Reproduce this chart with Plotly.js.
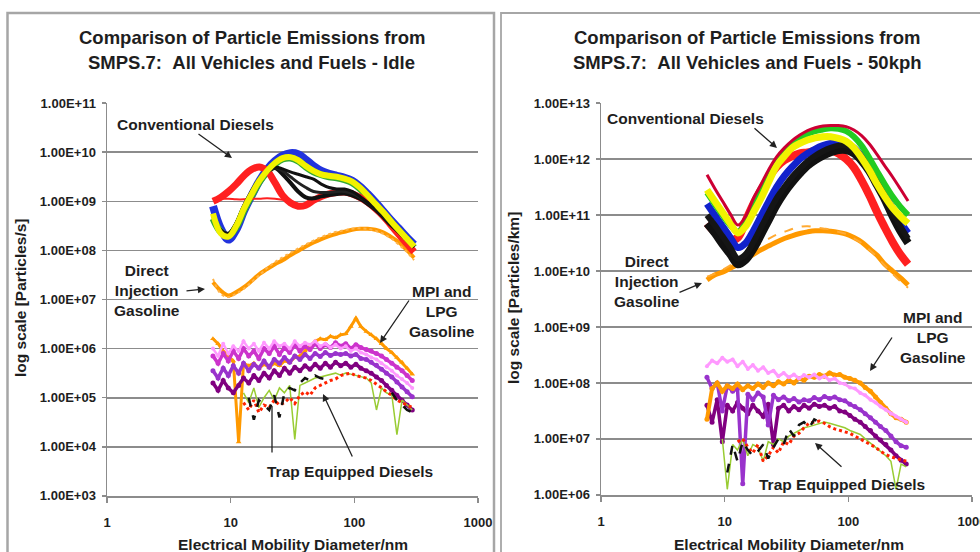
<!DOCTYPE html>
<html><head><meta charset="utf-8">
<script src="https://cdn.plot.ly/plotly-3.0.1.min.js"></script>
<style>html,body{margin:0;padding:0;background:#fff}#chart{width:980px;height:552px}</style>
</head><body><div id="chart"></div>
<script>
// ---------- DATA (y values are read as log10 exponents from the log-scale picture) ----------
const diaA = [7.2, 8.3, 9.6, 11.1, 12.8, 14.8, 17.1, 19.7, 22.8, 26.3, 30.4, 35.1, 40.5, 46.8, 54.0, 62.4, 72.0, 83.2, 96.0, 111, 128, 148, 171, 197, 228, 263, 304];
const diaF = [7.19, 7.91, 8.70, 9.57, 10.5, 11.6, 12.7, 14.0, 15.4, 16.9, 18.6, 20.5, 22.5, 24.8, 27.2, 30.0, 33.0, 36.3, 39.9, 43.8, 48.2, 53.0, 58.3, 64.1, 70.5, 77.5, 85.2, 93.7, 103, 113, 125, 137, 151, 166, 182, 201, 221, 243, 267, 294];

const xTickVals = [1, 10, 100, 1000];
const xTickText = ['1', '10', '100', '1000'];
const idleTickVals = [1e3, 1e4, 1e5, 1e6, 1e7, 1e8, 1e9, 1e10, 1e11];
const idleTickText = ['1.00E+03', '1.00E+04', '1.00E+05', '1.00E+06', '1.00E+07', '1.00E+08', '1.00E+09', '1.00E+10', '1.00E+11'];
const kphTickVals = [1e6, 1e7, 1e8, 1e9, 1e10, 1e11, 1e12, 1e13];
const kphTickText = ['1.00E+06', '1.00E+07', '1.00E+08', '1.00E+09', '1.00E+10', '1.00E+11', '1.00E+12', '1.00E+13'];

// Idle – conventional diesels (diaA)
const idleBlue   = [8.9, 8.45, 8.22, 8.42, 8.8, 9.12, 9.42, 9.65, 9.82, 9.93, 9.98, 9.96, 9.85, 9.72, 9.62, 9.56, 9.52, 9.48, 9.42, 9.3, 9.15, 8.98, 8.8, 8.62, 8.45, 8.28, 8.12];
const idleGreen  = [8.65, 8.38, 8.3, 8.48, 8.82, 9.12, 9.4, 9.6, 9.76, 9.86, 9.88, 9.82, 9.7, 9.6, 9.54, 9.5, 9.48, 9.44, 9.38, 9.26, 9.1, 8.93, 8.76, 8.58, 8.4, 8.24, 8.06];
const idleYellow = [8.75, 8.35, 8.28, 8.5, 8.85, 9.15, 9.42, 9.62, 9.78, 9.88, 9.9, 9.84, 9.72, 9.62, 9.55, 9.52, 9.5, 9.46, 9.4, 9.28, 9.12, 8.95, 8.78, 8.6, 8.42, 8.25, 8.08];
const idleBlackA = [8.7, 8.4, 8.33, 8.55, 8.9, 9.2, 9.45, 9.6, 9.68, 9.55, 9.38, 9.2, 9.08, 9.06, 9.1, 9.13, 9.15, 9.16, 9.12, 9.05, 8.95, 8.83, 8.68, 8.52, 8.38, 8.22, 8.07];
const idleBlackB = [8.72, 8.42, 8.35, 8.56, 8.9, 9.2, 9.44, 9.62, 9.7, 9.66, 9.6, 9.55, 9.5, 9.45, 9.35, 9.28, 9.25, 9.25, 9.2, 9.1, 8.98, 8.85, 8.7, 8.54, 8.38, 8.22, 8.07];
const idleBlackC = [8.68, 8.4, 8.34, 8.55, 8.9, 9.2, 9.45, 9.6, 9.68, 9.62, 9.5, 9.38, 9.28, 9.2, 9.18, 9.18, 9.2, 9.2, 9.16, 9.08, 8.97, 8.84, 8.69, 8.53, 8.38, 8.22, 8.07];
const idleRedA   = [9.0, 9.08, 9.2, 9.35, 9.52, 9.65, 9.7, 9.62, 9.38, 9.12, 8.97, 8.9, 8.92, 9.02, 9.1, 9.15, 9.18, 9.19, 9.15, 9.08, 8.98, 8.85, 8.7, 8.52, 8.33, 8.15, 7.97];
const idleRedB   = [null, 9.05, 9.05, 9.04, 9.04, 9.05, 9.05, 9.06, 9.05, 9.03, 9.0, 8.95, null, null, null, null, null, null, null, null, null, null, null, null, null, null, null];
// Idle – direct injection gasoline (diaA)
const idleDiA = [7.35, 7.18, 7.08, 7.15, 7.25, 7.38, 7.52, 7.62, 7.72, 7.8, 7.9, 7.99, 8.08, 8.16, 8.23, 8.29, 8.34, 8.38, 8.42, 8.44, 8.44, 8.42, 8.37, 8.28, 8.17, 8.02, 7.85];
const idleDiB = [7.42, 7.12, 7.05, 7.12, 7.22, 7.36, 7.5, 7.64, 7.76, 7.86, 7.95, 8.04, 8.12, 8.2, 8.27, 8.33, 8.38, 8.41, 8.44, 8.45, 8.44, 8.4, 8.34, 8.25, 8.12, 7.98, 7.8];
// Idle – MPI and LPG gasoline (diaF)
const idleMpiOrange  = [6.2, 6.1, 5.95, 5.85, 5.75, 4.1, 5.7, 5.65, 5.7, 5.6, 5.68, 5.62, 5.7, 5.65, 5.75, 5.72, 5.82, 5.85, 5.95, 6.05, 6.15, 6.2, 6.18, 6.25, 6.22, 6.28, 6.3, 6.45, 6.62, 6.45, 6.35, 6.28, 6.2, 6.1, 6.0, 5.92, 5.82, 5.72, 5.6, 5.48];
const idleMpiViolet  = [5.3, 5.15, 5.35, 5.2, 5.1, 5.25, 5.4, 5.3, 5.45, 5.35, 5.5, 5.4, 5.55, 5.45, 5.6, 5.5, 5.62, 5.55, 5.65, 5.58, 5.68, 5.6, 5.7, 5.62, 5.72, 5.65, 5.7, 5.62, 5.68, 5.6, 5.55, 5.5, 5.42, 5.35, 5.25, 5.15, 5.05, 4.95, 4.85, 4.75];
const idleMpiPurple  = [5.55, 5.4, 5.6, 5.45, 5.65, 5.5, 5.7, 5.55, 5.68, 5.6, 5.75, 5.62, 5.78, 5.7, 5.82, 5.72, 5.85, 5.78, 5.88, 5.8, 5.9, 5.84, 5.92, 5.86, 5.9, 5.88, 5.9, 5.85, 5.88, 5.8, 5.78, 5.72, 5.66, 5.58, 5.5, 5.42, 5.32, 5.22, 5.12, 5.02];
const idleMpiMagenta = [5.85, 5.7, 5.9, 5.75, 5.95, 5.8, 6.0, 5.85, 5.95, 5.8, 6.0, 5.9, 6.05, 5.88, 6.02, 5.92, 6.08, 5.95, 6.05, 5.98, 6.1, 6.0, 6.08, 6.02, 6.12, 6.05, 6.1, 6.0, 6.08, 6.02, 5.98, 5.95, 5.9, 5.85, 5.78, 5.7, 5.62, 5.55, 5.45, 5.35];
const idleMpiPink    = [6.0, 5.85, 6.1, 5.9, 6.05, 5.95, 6.15, 6.0, 6.1, 5.95, 6.12, 6.0, 6.15, 6.05, 6.1, 6.0, 6.15, 6.05, 6.12, 6.08, 6.15, 6.05, 6.1, 6.02, 6.08, 6.0, 6.05, 5.95, 6.0, 5.92, 5.88, 5.82, 5.78, 5.7, 5.62, 5.55, 5.45, 5.38, 5.3, 5.2];
// Idle – trap equipped diesels (diaF)
const idleTrapGreen = [null, null, null, null, null, null, 5.1, 4.9, 5.2, 4.8, 5.0, 5.15, 4.95, 5.2, 5.1, 5.25, 4.15, 5.25, 5.3, 5.35, 5.4, 5.42, 5.45, 5.48, 5.5, 5.46, 5.5, 5.48, 5.45, 5.42, 5.4, 5.3, 4.75, 5.2, 5.1, 5.05, 4.25, 4.95, 4.85, 4.75];
const idleTrapRed   = [null, null, null, null, null, null, 4.9, 4.75, 4.95, 4.7, 4.85, 4.8, 4.95, 4.85, 4.9, 5.0, 4.88, 5.05, 5.12, 5.05, 5.2, 5.25, 5.3, 5.35, 5.38, 5.45, 5.48, 5.5, 5.45, 5.42, 5.4, 5.35, 5.28, 5.2, 5.12, 5.05, 4.95, 4.9, 4.85, 4.8];
const idleTrapBlack = [null, null, null, null, null, null, null, 5.0, 4.55, 4.95, 4.85, 4.75, 5.05, 4.6, 5.1, 5.2, 5.15, 5.3, 5.4, 5.35, 5.45, 5.4, 5.38, null, null, null, null, null, null, null, null, null, null, null, null, 5.1, 4.95, 4.85, 4.75, 4.7];

// 50kph – conventional diesels (diaA)
const kphRed     = [10.85, 10.7, 10.6, 10.55, 10.6, 10.9, 11.2, 11.45, 11.68, 11.86, 11.98, 12.05, 12.1, 12.12, 12.15, 12.17, 12.16, 12.1, 12.0, 11.85, 11.62, 11.35, 11.05, 10.78, 10.52, 10.3, 10.12];
const kphBlackB  = [10.85, 10.68, 10.48, 10.3, 10.12, 10.2, 10.4, 10.65, 10.92, 11.18, 11.4, 11.58, 11.74, 11.88, 11.98, 12.06, 12.12, 12.16, 12.16, 12.1, 11.97, 11.78, 11.53, 11.28, 10.98, 10.72, 10.5];
const kphBlue    = [11.2, 11.0, 10.8, 10.6, 10.42, 10.5, 10.72, 10.98, 11.25, 11.5, 11.7, 11.86, 12.0, 12.1, 12.18, 12.24, 12.28, 12.3, 12.28, 12.2, 12.05, 11.85, 11.62, 11.38, 11.12, 10.88, 10.68];
const kphBlack   = [11.0, 10.82, 10.62, 10.42, 10.22, 10.3, 10.52, 10.78, 11.05, 11.3, 11.5, 11.68, 11.83, 11.96, 12.06, 12.14, 12.2, 12.24, 12.24, 12.18, 12.04, 11.85, 11.6, 11.35, 11.05, 10.8, 10.58];
const kphGreen   = [11.4, 11.2, 11.0, 10.82, 10.7, 10.85, 11.12, 11.4, 11.7, 11.95, 12.12, 12.27, 12.37, 12.45, 12.5, 12.53, 12.55, 12.54, 12.5, 12.4, 12.24, 12.02, 11.78, 11.55, 11.33, 11.15, 11.0];
const kphYellow  = [11.45, 11.25, 11.05, 10.85, 10.68, 10.8, 11.05, 11.3, 11.6, 11.88, 12.05, 12.2, 12.28, 12.34, 12.38, 12.4, 12.4, 12.37, 12.32, 12.2, 12.02, 11.8, 11.55, 11.33, 11.13, 10.98, 10.85];
const kphCrimson = [11.72, 11.48, 11.25, 11.02, 10.82, 10.98, 11.3, 11.55, 11.82, 12.04, 12.2, 12.33, 12.43, 12.51, 12.56, 12.59, 12.6, 12.6, 12.58, 12.52, 12.42, 12.27, 12.08, 11.88, 11.68, 11.47, 11.25];
// 50kph – direct injection gasoline (diaA)
const kphDiA = [9.84, 9.93, 9.98, 10.05, 10.12, 10.22, 10.3, 10.38, 10.45, 10.52, 10.58, 10.63, 10.67, 10.7, 10.72, 10.72, 10.71, 10.69, 10.66, 10.6, 10.52, 10.4, 10.28, 10.12, 10.0, 9.88, 9.75];
const kphDiB = [9.9, 9.95, 10.02, 10.1, 10.2, 10.3, 10.4, 10.5, 10.58, 10.65, 10.7, 10.75, 10.79, 10.8, 10.78, 10.76, 10.74, 10.7, 10.66, 10.58, 10.5, 10.38, 10.25, 10.1, 9.95, 9.82, 9.7];
// 50kph – MPI and LPG gasoline (diaF)
const kphMpiViolet = [7.6, 7.3, 7.7, 6.95, 7.6, 7.5, 7.65, 7.55, 7.45, 7.6, 7.5, 7.4, 7.62, 6.9, 7.55, 7.6, 7.5, 7.58, 7.52, 7.6, 7.55, 7.62, 7.58, 7.6, 7.55, 7.58, 7.5, 7.48, 7.42, 7.35, 7.3, 7.22, 7.15, 7.05, 6.98, 6.9, 6.8, 6.7, 6.62, 6.55];
const kphMpiPurple = [8.1, 7.9, 8.0, 7.5, 7.95, 7.85, 7.9, 6.2, 7.8, 7.7, 7.82, 7.75, 7.25, 7.78, 7.7, 7.75, 7.68, 7.72, 7.66, 7.7, 7.68, 7.74, 7.7, 7.76, 7.72, 7.75, 7.7, 7.68, 7.62, 7.58, 7.52, 7.45, 7.38, 7.3, 7.22, 7.15, 7.05, 6.95, 6.88, 6.85];
const kphMpiOrange = [7.35, 7.9, 8.0, 7.85, 7.95, 7.9, 7.98, 7.88, 7.95, 7.9, 7.98, 7.92, 8.0, 7.95, 8.02, 7.98, 8.05, 8.0, 8.08, 8.05, 8.12, 8.1, 8.15, 8.12, 8.18, 8.14, 8.15, 8.1, 8.08, 8.05, 8.0, 7.92, 7.85, 7.75, 7.65, 7.55, 7.45, 7.38, 7.35, 7.3];
const kphMpiPink   = [8.3, 8.4, 8.35, 8.45, 8.38, 8.42, 8.3, 8.38, 8.25, 8.32, 8.22, 8.28, 8.18, 8.22, 8.12, 8.18, 8.1, 8.15, 8.08, 8.14, 8.1, 8.15, 8.08, 8.12, 8.05, 8.08, 8.0, 7.98, 7.92, 7.9, 7.82, 7.78, 7.7, 7.65, 7.58, 7.52, 7.45, 7.4, 7.35, 7.3];
// 50kph – trap equipped diesels (diaF)
const kphTrapGreen = [null, null, null, 7.0, 6.1, 6.9, 6.8, 7.0, 6.7, 6.9, 6.85, 6.6, 6.95, 6.9, 7.0, 6.95, 7.05, 7.1, 7.15, 7.2, 7.22, 7.25, 7.28, 7.3, 7.28, 7.25, 7.22, 7.2, 7.15, 7.12, 7.08, 7.0, 6.92, 6.85, 6.78, 6.7, 6.6, 6.1, 6.55, 6.5];
const kphTrapRed   = [null, null, null, null, null, null, 6.95, 7.0, 6.85, 6.75, 6.9, 6.6, 6.7, 6.85, 6.75, 6.95, 6.9, 7.05, 7.1, 7.2, 7.28, 7.3, 7.32, 7.28, 7.22, 7.18, 7.15, 7.12, 7.1, 7.05, 7.0, 6.95, 6.9, 6.85, 6.78, 6.72, 6.68, 6.65, 6.62, 6.6];
const kphTrapBlack = [null, null, null, null, 6.4, 6.9, 6.6, 6.95, 6.8, 6.7, 6.78, 6.9, 6.65, 6.85, 7.0, 6.9, 7.18, 7.05, 7.25, 7.3, 7.2, 7.35, 7.3, null, null, null, null, null, null, null, null, null, null, null, null, null, null, null, null, null];

// ---------- TEXT ----------
const idleTitle = ['Comparison of Particle Emissions from', 'SMPS.7:\u00a0\u00a0All Vehicles and Fuels - Idle'];
const kphTitle = ['Comparison of Particle Emissions from', 'SMPS.7:\u00a0\u00a0All Vehicles and Fuels - 50kph'];
const xTitle = 'Electrical Mobility Diameter/nm';
const idleYTitle = 'log scale [Particles/s]';
const kphYTitle = 'log scale [Particles/km]';

// ---------- BUILD ----------
const fromLog = a => a.map(v => v === null ? null : Math.pow(10, v));
const traces = [];
function add(x, logs, color, width, ax, opt) {
  opt = opt || {};
  traces.push({
    x: x, y: fromLog(logs), type: 'scatter',
    mode: opt.mode || 'lines',
    xaxis: ax === 2 ? 'x2' : 'x', yaxis: ax === 2 ? 'y2' : 'y',
    line: {color: color, width: width, dash: opt.dash || 'solid', shape: opt.shape || 'linear'},
    marker: {color: color, size: opt.msize || 4, symbol: opt.symbol || 'circle'},
    connectgaps: false, hoverinfo: 'skip'
  });
}
// Idle panel
add(diaF, idleMpiOrange, '#ff9900', 3, 1, {mode: 'lines+markers', msize: 5, symbol: 'triangle-up'});
add(diaF, idleMpiViolet, '#800080', 3.5, 1, {mode: 'lines+markers', msize: 5});
add(diaF, idleMpiPurple, '#9933cc', 3.5, 1, {mode: 'lines+markers', msize: 5});
add(diaF, idleMpiMagenta, '#cc33cc', 3.5, 1, {mode: 'lines+markers', msize: 5});
add(diaF, idleMpiPink, '#ff99ff', 2.5, 1, {mode: 'lines+markers', msize: 4});
add(diaF, idleTrapGreen, '#99cc33', 1.5, 1, {mode: 'lines'});
add(diaF, idleTrapRed, '#ff2200', 3, 1, {mode: 'lines', dash: 'dot'});
add(diaF, idleTrapBlack, '#111111', 2.5, 1, {mode: 'lines', dash: 'dash'});
add(diaA, idleDiA, '#ff9900', 4, 1, {shape: 'spline'});
add(diaA, idleDiB, '#ffb347', 2, 1, {shape: 'spline', dash: 'dot'});
add(diaA, idleBlue, '#2233dd', 8, 1, {shape: 'spline'});
add(diaA, idleGreen, '#33aa33', 7, 1, {shape: 'spline'});
add(diaA, idleRedB, '#ff2020', 2, 1, {shape: 'spline'});
add(diaA, idleRedA, '#ff2020', 7, 1, {shape: 'spline'});
add(diaA, idleBlackA, '#111111', 4, 1, {shape: 'spline'});
add(diaA, idleBlackC, '#222222', 3, 1, {shape: 'spline'});
add(diaA, idleBlackB, '#111111', 3, 1, {shape: 'spline'});
add(diaA, idleYellow, '#f2f200', 6, 1, {shape: 'spline'});
// 50kph panel
add(diaF, kphMpiViolet, '#800080', 3.5, 2, {mode: 'lines+markers', msize: 5});
add(diaF, kphMpiPurple, '#9933cc', 3.5, 2, {mode: 'lines+markers', msize: 5});
add(diaF, kphMpiOrange, '#ff9900', 4, 2, {mode: 'lines+markers', msize: 5});
add(diaF, kphMpiPink, '#ff99ff', 3, 2, {mode: 'lines+markers', msize: 4});
add(diaF, kphTrapGreen, '#99cc33', 1.5, 2, {mode: 'lines'});
add(diaF, kphTrapRed, '#ff2200', 3, 2, {mode: 'lines', dash: 'dot'});
add(diaF, kphTrapBlack, '#111111', 2.5, 2, {mode: 'lines', dash: 'dash'});
add(diaA, kphDiA, '#ff9900', 5, 2, {shape: 'spline'});
add(diaA, kphDiB, '#ffaa33', 2, 2, {shape: 'spline', dash: 'dash'});
add(diaA, kphRed, '#ff2020', 8, 2, {shape: 'spline'});
add(diaA, kphBlackB, '#111111', 8, 2, {shape: 'spline'});
add(diaA, kphBlue, '#1122cc', 7, 2, {shape: 'spline'});
add(diaA, kphBlack, '#151515', 6, 2, {shape: 'spline'});
add(diaA, kphGreen, '#22cc22', 6, 2, {shape: 'spline'});
add(diaA, kphYellow, '#f2f200', 7, 2, {shape: 'spline'});
add(diaA, kphCrimson, '#cc0033', 3, 2, {shape: 'spline'});

const W = 980, H = 552;
const px = x => x / W, py = y => 1 - y / H;
const FONT = 'Liberation Sans, Arial, sans-serif';
const txtCol = '#1e1e1e';
const gridCol = '#8c8c8c';

function xAxis(l, r, anchor) {
  return {domain: [px(l), px(r)], anchor: anchor, type: 'log', range: [0, 3],
    tickmode: 'array', tickvals: xTickVals, ticktext: xTickText,
    showgrid: false, zeroline: false, showline: true, linecolor: gridCol, linewidth: 1.5,
    ticks: 'outside', ticklen: 5, tickcolor: gridCol, tickwidth: 1.5,
    ticklabelstandoff: 9, ticklabeloverflow: 'allow',
    tickfont: {family: FONT, size: 13, color: txtCol, weight: 'bold'}};
}
function yAxis(t, b, anchor, lo, hi, vals, text) {
  return {domain: [py(b), py(t)], anchor: anchor, type: 'log', range: [lo - 0.002, hi + 0.002],
    tickmode: 'array', tickvals: vals, ticktext: text,
    showgrid: true, gridcolor: gridCol, gridwidth: 1.6, zeroline: false,
    showline: true, linecolor: gridCol, linewidth: 1.5,
    ticks: 'outside', ticklen: 4, tickcolor: gridCol, tickwidth: 1.5,
    ticklabelstandoff: 3,
    tickfont: {family: FONT, size: 13, color: txtCol, weight: 'bold'}};
}

const ann = [];
function text(x, y, t, size, opt) {
  opt = opt || {};
  ann.push({xref: 'paper', yref: 'paper', x: px(x), y: py(y), text: t, showarrow: false,
    xanchor: 'center', yanchor: 'middle', align: 'center', textangle: opt.angle || 0,
    font: {family: FONT, size: size, color: txtCol, weight: 'bold'}});
}
function arrow(hx, hy, tx, ty, head) {
  ann.push({xref: 'paper', yref: 'paper', x: px(hx), y: py(hy), ax: tx - hx, ay: ty - hy,
    text: '', showarrow: true, arrowhead: head === undefined ? 2 : head, arrowsize: 1.1,
    arrowwidth: 1.3, arrowcolor: '#222', standoff: 0, startstandoff: 0});
}
// titles
text(252, 38, idleTitle[0], 18.5); text(252, 62, idleTitle[1], 18.5);
text(747, 38, kphTitle[0], 18.5); text(747, 62, kphTitle[1], 18.5);
// axis titles
text(293, 544, xTitle, 15.5); text(789, 544, xTitle, 15.5);
text(20, 298, idleYTitle, 15.5, {angle: -90}); text(513, 298, kphYTitle, 15.5, {angle: -90});
// idle labels
text(195, 124, 'Conventional Diesels', 15.5);
text(147, 290, 'Direct<br>Injection<br>Gasoline', 15.5);
text(442, 311, 'MPI and<br>LPG<br>Gasoline', 15.5);
text(350, 471, 'Trap Equipped Diesels', 15.5);
arrow(232, 158, 197, 133);
arrow(205, 289, 185, 291);
arrow(380, 343, 410, 299);
arrow(323, 394, 353, 458);
arrow(272, 406, 272, 454, 0);
// 50kph labels
text(685, 118, 'Conventional Diesels', 15.5);
text(647, 281, 'Direct<br>Injection<br>Gasoline', 15.5);
text(933, 337, 'MPI and<br>LPG<br>Gasoline', 15.5);
text(842, 484, 'Trap Equipped Diesels', 15.5);
arrow(777, 148, 753, 127);
arrow(702, 283, 678, 293);
arrow(870, 371, 893, 336);
arrow(815, 443, 843, 468);

const shapes = [
  {type: 'rect', xref: 'paper', yref: 'paper', x0: px(7.5), x1: px(494), y0: -0.2, y1: py(13), line: {color: '#a6a6a6', width: 2.5}},
  {type: 'rect', xref: 'paper', yref: 'paper', x0: px(501), x1: 1.2, y0: -0.2, y1: py(13), line: {color: '#a6a6a6', width: 1.8}}
];

const layout = {
  width: W, height: H, margin: {l: 0, r: 0, t: 0, b: 0},
  paper_bgcolor: '#ffffff', plot_bgcolor: 'rgba(0,0,0,0)', showlegend: false,
  xaxis: xAxis(107, 478, 'y'),
  yaxis: yAxis(103, 496, 'x', 3, 11, idleTickVals, idleTickText),
  xaxis2: xAxis(601, 972, 'y2'),
  yaxis2: yAxis(103, 495, 'x2', 6, 13, kphTickVals, kphTickText),
  annotations: ann, shapes: shapes
};
Plotly.newPlot('chart', traces, layout, {staticPlot: true, displayModeBar: false});
</script>
</body></html>
